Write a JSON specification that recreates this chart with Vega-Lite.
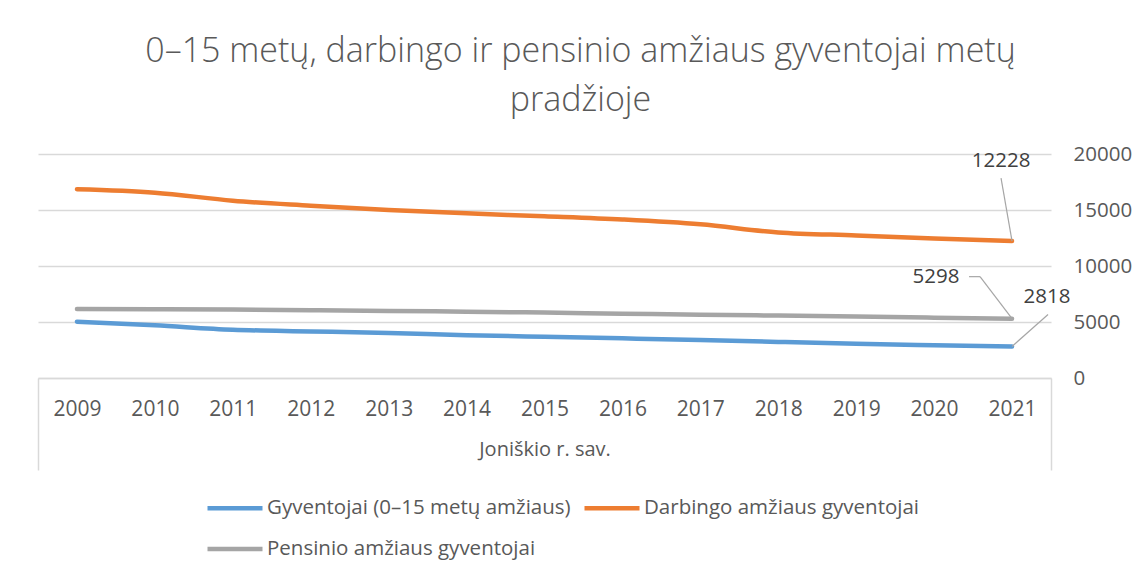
{
  "$schema": "https://vega.github.io/schema/vega-lite/v6.json",
  "autosize": {"type": "none"},
  "width": 1013,
  "height": 224,
  "padding": {"left": 38, "top": 154, "right": 96, "bottom": 202},
  "background": "white",
  "config": {
    "font": "Open Sans",
    "view": {"stroke": null},
    "axis": {"labelColor": "#595959", "titleColor": "#595959", "labelFont": "Open Sans", "titleFont": "Open Sans"},
    "legend": {"labelFont": "Open Sans"}
  },
  "title": {
    "text": ["0–15 metų, darbingo ir pensinio amžiaus gyventojai metų", "pradžioje"],
    "anchor": "middle",
    "frame": "group",
    "dx": 36,
    "offset": 26,
    "fontSize": 34,
    "fontWeight": 300,
    "font": "Open Sans",
    "color": "#595959",
    "lineHeight": 49
  },
  "data": {
    "values": [
      {"year": 2009, "series": "Gyventojai (0–15 metų amžiaus)", "value": 5030},
      {"year": 2010, "series": "Gyventojai (0–15 metų amžiaus)", "value": 4700},
      {"year": 2011, "series": "Gyventojai (0–15 metų amžiaus)", "value": 4310},
      {"year": 2012, "series": "Gyventojai (0–15 metų amžiaus)", "value": 4160},
      {"year": 2013, "series": "Gyventojai (0–15 metų amžiaus)", "value": 4010},
      {"year": 2014, "series": "Gyventojai (0–15 metų amžiaus)", "value": 3820},
      {"year": 2015, "series": "Gyventojai (0–15 metų amžiaus)", "value": 3680},
      {"year": 2016, "series": "Gyventojai (0–15 metų amžiaus)", "value": 3540},
      {"year": 2017, "series": "Gyventojai (0–15 metų amžiaus)", "value": 3400},
      {"year": 2018, "series": "Gyventojai (0–15 metų amžiaus)", "value": 3220},
      {"year": 2019, "series": "Gyventojai (0–15 metų amžiaus)", "value": 3050},
      {"year": 2020, "series": "Gyventojai (0–15 metų amžiaus)", "value": 2930},
      {"year": 2021, "series": "Gyventojai (0–15 metų amžiaus)", "value": 2818},
      {"year": 2009, "series": "Darbingo amžiaus gyventojai", "value": 16850},
      {"year": 2010, "series": "Darbingo amžiaus gyventojai", "value": 16550},
      {"year": 2011, "series": "Darbingo amžiaus gyventojai", "value": 15830},
      {"year": 2012, "series": "Darbingo amžiaus gyventojai", "value": 15390},
      {"year": 2013, "series": "Darbingo amžiaus gyventojai", "value": 15000},
      {"year": 2014, "series": "Darbingo amžiaus gyventojai", "value": 14700},
      {"year": 2015, "series": "Darbingo amžiaus gyventojai", "value": 14440},
      {"year": 2016, "series": "Darbingo amžiaus gyventojai", "value": 14150},
      {"year": 2017, "series": "Darbingo amžiaus gyventojai", "value": 13720},
      {"year": 2018, "series": "Darbingo amžiaus gyventojai", "value": 13000},
      {"year": 2019, "series": "Darbingo amžiaus gyventojai", "value": 12730},
      {"year": 2020, "series": "Darbingo amžiaus gyventojai", "value": 12460},
      {"year": 2021, "series": "Darbingo amžiaus gyventojai", "value": 12228},
      {"year": 2009, "series": "Pensinio amžiaus gyventojai", "value": 6170},
      {"year": 2010, "series": "Pensinio amžiaus gyventojai", "value": 6140},
      {"year": 2011, "series": "Pensinio amžiaus gyventojai", "value": 6110},
      {"year": 2012, "series": "Pensinio amžiaus gyventojai", "value": 6050},
      {"year": 2013, "series": "Pensinio amžiaus gyventojai", "value": 5990},
      {"year": 2014, "series": "Pensinio amžiaus gyventojai", "value": 5920},
      {"year": 2015, "series": "Pensinio amžiaus gyventojai", "value": 5840},
      {"year": 2016, "series": "Pensinio amžiaus gyventojai", "value": 5740},
      {"year": 2017, "series": "Pensinio amžiaus gyventojai", "value": 5650},
      {"year": 2018, "series": "Pensinio amžiaus gyventojai", "value": 5570},
      {"year": 2019, "series": "Pensinio amžiaus gyventojai", "value": 5480},
      {"year": 2020, "series": "Pensinio amžiaus gyventojai", "value": 5390},
      {"year": 2021, "series": "Pensinio amžiaus gyventojai", "value": 5298}
    ]
  },
  "resolve": {"axis": {"x": "independent"}},
  "layer": [
    {
      "mark": {"type": "rule", "opacity": 0},
      "encoding": {
        "x": {
          "field": "year", "type": "quantitative",
          "scale": {"domain": [2008.5, 2021.5], "nice": false, "zero": false},
          "axis": {
            "orient": "bottom", "values": [2008.5, 2021.5], "labels": false,
            "tickSize": 92, "tickColor": "#d9d9d9", "tickWidth": 1.5, "domain": false, "grid": false, "title": null
          }
        }
      }
    },
    {
      "mark": {"type": "line", "interpolate": "monotone", "strokeWidth": 4.5, "strokeCap": "round", "strokeJoin": "round"},
      "encoding": {
        "x": {
          "field": "year", "type": "quantitative",
          "axis": {
            "orient": "bottom",
            "values": [2009, 2010, 2011, 2012, 2013, 2014, 2015, 2016, 2017, 2018, 2019, 2020, 2021],
            "format": "d", "ticks": false, "labelPadding": 20, "labelFontSize": 21,
            "domainColor": "#d9d9d9", "domainWidth": 1.5, "grid": false,
            "title": "Joniškio r. sav.", "titleFontSize": 20, "titleFontWeight": "normal", "titlePadding": 20
          }
        },
        "y": {
          "field": "value", "type": "quantitative",
          "scale": {"domain": [0, 20000], "nice": false},
          "axis": {
            "orient": "right", "values": [0, 5000, 10000, 15000, 20000], "format": "d",
            "domain": false, "ticks": false, "labelPadding": 22, "labelFontSize": 20.5,
            "gridColor": "#d9d9d9", "gridWidth": 1.5, "title": null
          }
        },
        "color": {
          "field": "series", "type": "nominal",
          "scale": {
            "domain": ["Gyventojai (0–15 metų amžiaus)", "Darbingo amžiaus gyventojai", "Pensinio amžiaus gyventojai"],
            "range": ["#5b9bd5", "#ed7d31", "#a5a5a5"]
          },
          "legend": {
            "orient": "none", "legendX": 167, "legendY": 324, "columns": 2, "direction": "horizontal",
            "title": null, "symbolType": "stroke", "symbolSize": 3025, "symbolStrokeWidth": 4.5,
            "labelFontSize": 20.5, "labelColor": "#595959", "labelOffset": 2, "columnPadding": 4, "rowPadding": -11,
            "labelLimit": 400
          }
        }
      }
    },
    {
      "transform": [{"filter": "datum.year == 2021 && datum.series == 'Darbingo amžiaus gyventojai'"}],
      "layer": [
        {
          "mark": {"type": "rule", "color": "#a6a6a6", "strokeWidth": 1.2, "x2Offset": -11, "y2Offset": -63},
          "encoding": {"x": {"field": "year", "type": "quantitative", "axis": null}, "y": {"field": "value", "type": "quantitative"}, "x2": {"field": "year"}, "y2": {"field": "value"}}
        },
        {
          "mark": {"type": "text", "fontSize": 20.5, "color": "#404040", "dx": -11, "dy": -80, "font": "Open Sans"},
          "encoding": {"x": {"field": "year", "type": "quantitative", "axis": null}, "y": {"field": "value", "type": "quantitative"}, "text": {"field": "value", "type": "quantitative", "format": "d"}}
        }
      ]
    },
    {
      "transform": [{"filter": "datum.year == 2021 && datum.series == 'Pensinio amžiaus gyventojai'"}],
      "layer": [
        {
          "mark": {"type": "rule", "color": "#a6a6a6", "strokeWidth": 1.2, "x2Offset": -32, "y2Offset": -42},
          "encoding": {"x": {"field": "year", "type": "quantitative", "axis": null}, "y": {"field": "value", "type": "quantitative"}, "x2": {"field": "year"}, "y2": {"field": "value"}}
        },
        {
          "mark": {"type": "rule", "color": "#a6a6a6", "strokeWidth": 1.2, "xOffset": -32, "yOffset": -42, "x2Offset": -43, "y2Offset": -42},
          "encoding": {"x": {"field": "year", "type": "quantitative", "axis": null}, "y": {"field": "value", "type": "quantitative"}, "x2": {"field": "year"}, "y2": {"field": "value"}}
        },
        {
          "mark": {"type": "text", "fontSize": 20.5, "color": "#404040", "dx": -76, "dy": -42, "font": "Open Sans"},
          "encoding": {"x": {"field": "year", "type": "quantitative", "axis": null}, "y": {"field": "value", "type": "quantitative"}, "text": {"field": "value", "type": "quantitative", "format": "d"}}
        }
      ]
    },
    {
      "transform": [{"filter": "datum.year == 2021 && datum.series == 'Gyventojai (0–15 metų amžiaus)'"}],
      "layer": [
        {
          "mark": {"type": "rule", "color": "#a6a6a6", "strokeWidth": 1.2, "x2Offset": 36, "y2Offset": -32},
          "encoding": {"x": {"field": "year", "type": "quantitative", "axis": null}, "y": {"field": "value", "type": "quantitative"}, "x2": {"field": "year"}, "y2": {"field": "value"}}
        },
        {
          "mark": {"type": "text", "fontSize": 20.5, "color": "#404040", "dx": 35, "dy": -49, "font": "Open Sans"},
          "encoding": {"x": {"field": "year", "type": "quantitative", "axis": null}, "y": {"field": "value", "type": "quantitative"}, "text": {"field": "value", "type": "quantitative", "format": "d"}}
        }
      ]
    }
  ]
}
